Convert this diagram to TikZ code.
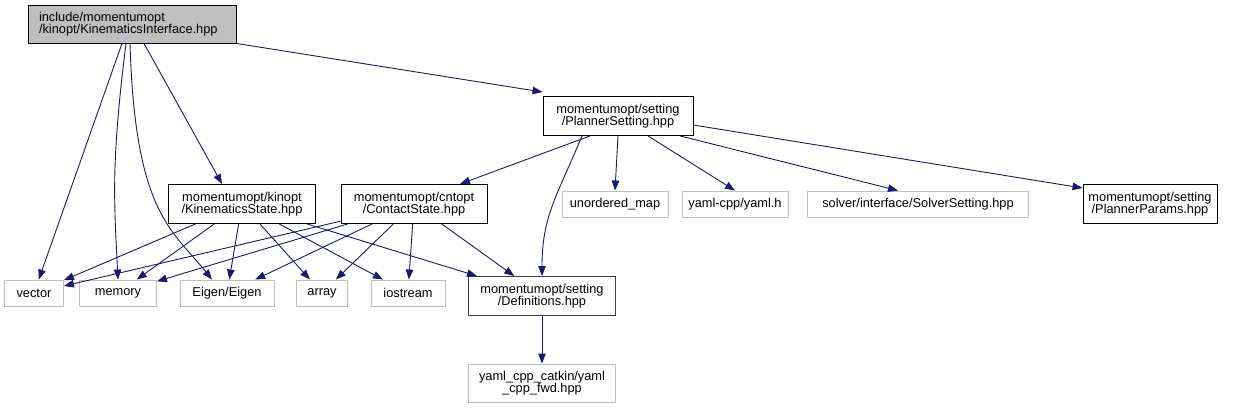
\documentclass[tikz,border=0pt]{standalone}
\usepackage{fontspec}
\setmainfont{Liberation Sans}
\usetikzlibrary{arrows.meta}
\definecolor{edgeblue}{RGB}{25,25,112}
\definecolor{extgray}{RGB}{191,191,191}
\definecolor{rootgray}{RGB}{191,191,191}

\begin{document}
\begin{tikzpicture}[
    x=1pt, y=-1pt,
    every node/.style={font=\fontsize{12.8}{12.6}\selectfont, inner sep=0pt},
    box/.style={
        draw=black,
        fill=white,
        line width=0.9pt,
        align=center,
        minimum height=39pt
    },
    extbox/.style={
        draw=extgray,
        fill=white,
        line width=0.9pt,
        align=center,
        minimum height=26pt
    },
    incl/.style={
        -{Triangle[length=10pt,width=7.5pt]},
        draw=edgeblue,
        line width=0.9pt
    }
]

\useasboundingbox (0,0) rectangle (1237,409);

% this file
\node[
    box,
    fill=rootgray,
    align=left,
    text width=186pt,
    inner xsep=11pt,
    minimum height=38pt
] (root) at (132,24)
{include/momentumopt\\/kinopt/KinematicsInterface.hpp};

% documented headers
\node[
    box,
    minimum width=150pt
] (planner) at (618,116)
{momentumopt/setting\\/PlannerSetting.hpp};

\node[
    box,
    minimum width=147pt
] (kinstate) at (242,204)
{momentumopt/kinopt\\/KinematicsState.hpp};

\node[
    box,
    minimum width=146pt
] (contact) at (414,204)
{momentumopt/cntopt\\/ContactState.hpp};

\node[
    box,
    minimum width=134pt
] (params) at (1150,204)
{momentumopt/setting\\/PlannerParams.hpp};

\node[
    box,
    draw=black!75,
    minimum width=147pt
] (defs) at (542,296)
{momentumopt/setting\\/Definitions.hpp};

% external headers
\node[
    extbox,
    minimum width=106pt
] (umap) at (615,204)
{unordered\_map};

\node[
    extbox,
    minimum width=106pt
] (yamlh) at (735,204)
{yaml-cpp/yaml.h};

\node[
    extbox,
    minimum width=221pt
] (solver) at (918,204)
{solver/interface/SolverSetting.hpp};

\node[
    extbox,
    minimum width=59pt
] (vector) at (34,293)
{vector};

\node[
    extbox,
    minimum width=77pt
] (memory) at (118,293)
{memory};

\node[
    extbox,
    minimum width=94pt
] (eigen) at (227,293)
{Eigen/Eigen};

\node[
    extbox,
    minimum width=51pt
] (array) at (322,293)
{array};

\node[
    extbox,
    minimum width=74pt
] (iostream) at (408,293)
{iostream};

\node[
    extbox,
    minimum width=147pt,
    minimum height=38pt
] (yamlfwd) at (542,383)
{yaml\_cpp\_catkin/yaml\\\_cpp\_fwd.hpp};

% includes of the root file
\draw[incl] ([xshift=-10pt]root.south) -- (vector);
\draw[incl] ([xshift=-6pt]root.south) .. controls +(-15,120) and +(-4,-80) .. (memory.north);
\draw[incl] ([xshift=-2pt]root.south) .. controls +(5,170) and +(-40,-50) .. ([xshift=-15pt]eigen.north);
\draw[incl] ([xshift=12pt]root.south) -- ([xshift=-20pt]kinstate.north);
\draw[incl] (root.south east) -- ([yshift=4pt]planner.north west);

% includes of PlannerSetting
\draw[incl] ([xshift=-28pt]planner.south) -- ([xshift=46pt]contact.north);
\draw[incl] ([xshift=-36pt]planner.south) .. controls +(-25,60) and +(0,-60) .. (defs.north);
\draw[incl] (planner.south) -- (umap.north);
\draw[incl] ([xshift=30pt]planner.south) -- (yamlh.north);
\draw[incl] ([xshift=62pt]planner.south) -- ([xshift=-20pt]solver.north);
\draw[incl] ([yshift=-9pt]planner.east) -- ([yshift=-4pt]params.north west);

% includes of KinematicsState
\draw[incl] (kinstate) -- (vector);
\draw[incl] (kinstate) -- (memory);
\draw[incl] (kinstate) -- (eigen);
\draw[incl] (kinstate) -- (array);
\draw[incl] (kinstate) -- (iostream);
\draw[incl] (kinstate) -- (defs);

% includes of ContactState
\draw[incl] (contact) -- (vector);
\draw[incl] (contact) -- (memory);
\draw[incl] (contact) -- (eigen);
\draw[incl] (contact) -- (array);
\draw[incl] (contact) -- (iostream);
\draw[incl] (contact) -- (defs);

\draw[incl] (defs) -- (yamlfwd);

\end{tikzpicture}
\end{document}
